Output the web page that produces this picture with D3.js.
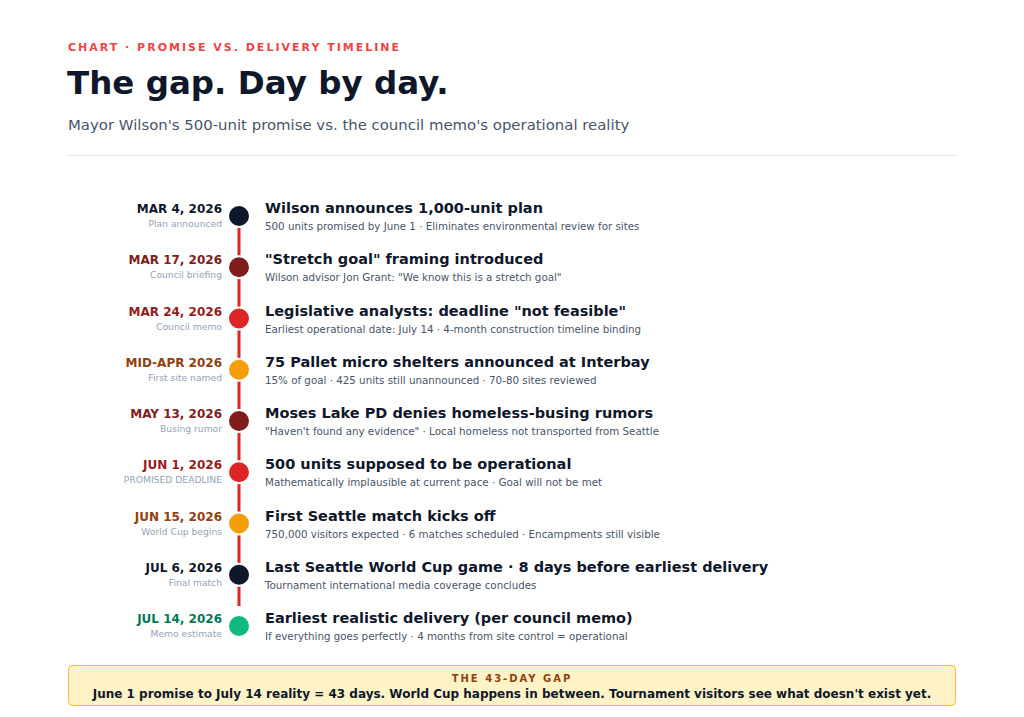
<!DOCTYPE html>
<html>
<head>
<meta charset="utf-8">
<script src="https://cdn.jsdelivr.net/npm/d3@7"></script>
<style>
  body { margin: 0; background: #fff; font-family: "DejaVu Sans", sans-serif; }
</style>
</head>
<body>
<div id="chart"></div>
<script>
// timeline data
var dates = ["MAR 4, 2026", "MAR 17, 2026", "MAR 24, 2026", "MID-APR 2026", "MAY 13, 2026",
             "JUN 1, 2026", "JUN 15, 2026", "JUL 6, 2026", "JUL 14, 2026"];
var tags = ["Plan announced", "Council briefing", "Council memo", "First site named", "Busing rumor",
            "PROMISED DEADLINE", "World Cup begins", "Final match", "Memo estimate"];
var titles = ["Wilson announces 1,000-unit plan",
              "\"Stretch goal\" framing introduced",
              "Legislative analysts: deadline \"not feasible\"",
              "75 Pallet micro shelters announced at Interbay",
              "Moses Lake PD denies homeless-busing rumors",
              "500 units supposed to be operational",
              "First Seattle match kicks off",
              "Last Seattle World Cup game \u00b7 8 days before earliest delivery",
              "Earliest realistic delivery (per council memo)"];
var details = ["500 units promised by June 1 \u00b7 Eliminates environmental review for sites",
               "Wilson advisor Jon Grant: \"We know this is a stretch goal\"",
               "Earliest operational date: July 14 \u00b7 4-month construction timeline binding",
               "15% of goal \u00b7 425 units still unannounced \u00b7 70-80 sites reviewed",
               "\"Haven't found any evidence\" \u00b7 Local homeless not transported from Seattle",
               "Mathematically implausible at current pace \u00b7 Goal will not be met",
               "750,000 visitors expected \u00b7 6 matches scheduled \u00b7 Encampments still visible",
               "Tournament international media coverage concludes",
               "If everything goes perfectly \u00b7 4 months from site control = operational"];
var kinds = ["neutral", "warning", "alert", "event", "warning", "alert", "event", "neutral", "target"];

var kindKeys = ["neutral", "warning", "alert", "event", "target"];

var width = 1024, height = 717;

var svg = d3.select("#chart")
  .append("svg")
  .attr("width", width)
  .attr("height", height);

// header
svg.append("text")
  .attr("x", 68).attr("y", 51)
  .style("font-size", "11px").style("font-weight", "bold")
  .style("letter-spacing", "2px")
  .style("fill", "#ef4444")
  .text("CHART \u00b7 PROMISE VS. DELIVERY TIMELINE");

svg.append("text")
  .attr("x", 67).attr("y", 94)
  .style("font-size", "32.5px").style("font-weight", "bold")
  .style("fill", "#0f172a")
  .text("The gap. Day by day.");

svg.append("text")
  .attr("x", 68).attr("y", 130)
  .style("font-size", "14.9px")
  .style("fill", "#475569")
  .text("Mayor Wilson's 500-unit promise vs. the council memo's operational reality");

svg.append("line")
  .attr("x1", 68).attr("x2", 956)
  .attr("y1", 155.5).attr("y2", 155.5)
  .attr("stroke", "#e2e8f0");

// scales
var y = d3.scalePoint()
  .domain(d3.range(dates.length))
  .range([216, 626]);

var dotColor = d3.scaleOrdinal()
  .domain(kindKeys)
  .range(["#0f172a", "#7f1d1d", "#dc2626", "#f59e0b", "#10b981"]);

var dateColor = d3.scaleOrdinal()
  .domain(kindKeys)
  .range(["#0f172a", "#7f1d1d", "#991b1b", "#92400e", "#047857"]);

var dotX = 239;

// spine, runs from the first dot down to just above the last one
svg.append("line")
  .attr("x1", dotX).attr("x2", dotX)
  .attr("y1", y(0)).attr("y2", y(dates.length - 1) - 20)
  .attr("stroke", "#dc2626")
  .attr("stroke-width", 3);

var rows = svg.selectAll(".row")
  .data(d3.range(dates.length))
  .enter()
  .append("g")
  .attr("class", "row")
  .attr("transform", function(i) { return "translate(0," + y(i) + ")"; });

rows.append("text")
  .attr("x", 222).attr("y", -3)
  .attr("text-anchor", "end")
  .style("font-size", "12px").style("font-weight", "bold")
  .style("fill", function(i) { return dateColor(kinds[i]); })
  .text(function(i) { return dates[i]; });

rows.append("text")
  .attr("x", 222).attr("y", 11)
  .attr("text-anchor", "end")
  .style("font-size", "9.2px")
  .style("fill", "#94a3b8")
  .text(function(i) { return tags[i]; });

rows.append("circle")
  .attr("cx", dotX).attr("cy", 0)
  .attr("r", 11)
  .attr("fill", function(i) { return dotColor(kinds[i]); })
  .attr("stroke", "#fff")
  .attr("stroke-width", 2);

rows.append("text")
  .attr("x", 265).attr("y", -3)
  .style("font-size", "14.5px").style("font-weight", "bold")
  .style("fill", "#0f172a")
  .text(function(i) { return titles[i]; });

rows.append("text")
  .attr("x", 265).attr("y", 14)
  .style("font-size", "10.3px")
  .style("fill", "#475569")
  .text(function(i) { return details[i]; });

// callout box
var box = svg.append("g");
box.append("rect")
  .attr("x", 68.5).attr("y", 665.5)
  .attr("width", 887).attr("height", 40)
  .attr("rx", 4)
  .attr("fill", "#fef3c7")
  .attr("stroke", "#fbbf24");

box.append("text")
  .attr("x", 512).attr("y", 682)
  .attr("text-anchor", "middle")
  .style("font-size", "10px").style("font-weight", "bold")
  .style("letter-spacing", "2px")
  .style("fill", "#92400e")
  .text("THE 43-DAY GAP");

box.append("text")
  .attr("x", 512).attr("y", 698)
  .attr("text-anchor", "middle")
  .style("font-size", "12px").style("font-weight", "bold")
  .style("fill", "#0f172a")
  .text("June 1 promise to July 14 reality = 43 days. World Cup happens in between. Tournament visitors see what doesn't exist yet.");
</script>
</body>
</html>
